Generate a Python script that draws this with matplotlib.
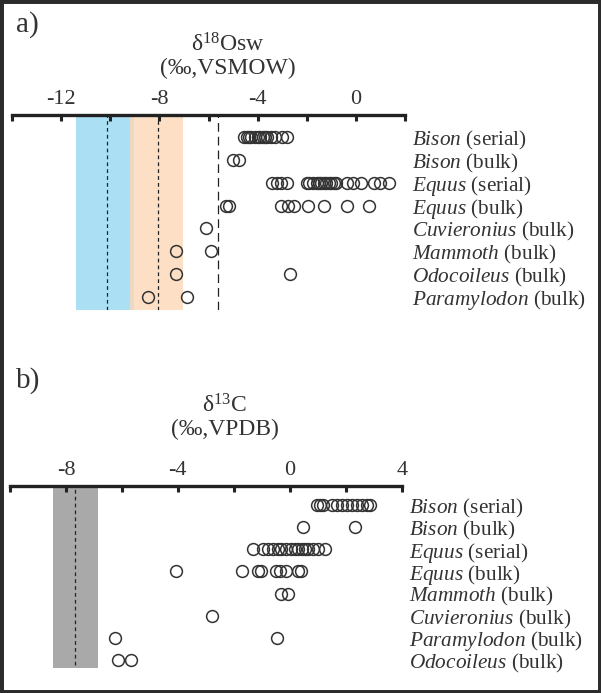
import matplotlib
matplotlib.use("Agg")
import matplotlib.pyplot as plt
from matplotlib.patches import Rectangle

plt.rcParams["font.family"] = ["Liberation Serif", "DejaVu Serif"]
plt.rcParams["mathtext.fontset"] = "custom"
plt.rcParams["mathtext.rm"] = "Liberation Serif"
plt.rcParams["mathtext.it"] = "Liberation Serif:italic"

# panel a: d18O of source water
o_genus = ["Bison", "Bison", "Equus", "Equus", "Cuvieronius", "Mammoth", "Odocoileus", "Paramylodon"]
o_kind = ["serial", "bulk", "serial", "bulk", "bulk", "bulk", "bulk", "bulk"]
o_values = [
    [-4.55, -4.45, -4.35, -4.25, -4.1, -4.0, -3.9, -3.8, -3.7, -3.6, -3.45, -3.3, -3.0, -2.8],
    [-5.0, -4.75],
    [-3.4, -3.2, -3.05, -2.8, -2.0, -1.9, -1.75, -1.6, -1.5, -1.4, -1.3, -1.2, -1.1, -1.0,
     -0.9, -0.8, -0.35, -0.1, 0.2, 0.75, 1.0, 1.35],
    [-5.28, -5.15, -3.05, -2.78, -2.5, -1.94, -1.31, -0.38, 0.54],
    [-6.1],
    [-7.34, -5.9],
    [-7.34, -2.67],
    [-8.47, -6.87],
]
blue_band = (-11.4, -9.05)
blue_mean = -10.15
orange_band = (-9.2, -7.03)
orange_mean = -8.07
o_line = -5.62

# panel b: d13C
c_genus = ["Bison", "Bison", "Equus", "Equus", "Mammoth", "Cuvieronius", "Paramylodon", "Odocoileus"]
c_kind = ["serial", "bulk", "serial", "bulk", "bulk", "bulk", "bulk", "bulk"]
c_values = [
    [0.96, 1.08, 1.2, 1.5, 1.68, 1.86, 2.04, 2.22, 2.4, 2.57, 2.75, 2.87],
    [0.46, 2.33],
    [-1.32, -0.96, -0.78, -0.6, -0.42, -0.3, -0.12, 0.06, 0.18, 0.3, 0.42, 0.54, 0.66,
     0.84, 1.02, 1.26],
    [-4.07, -1.7, -1.14, -1.02, -0.48, -0.36, -0.12, 0.28, 0.4],
    [-0.32, -0.06],
    [-2.79],
    [-6.25, -0.44],
    [-6.13, -5.66],
]
gray_band = (-8.47, -6.84)
gray_mean = -7.68

W, H = 601, 693
fig = plt.figure(figsize=(W / 100, H / 100), dpi=100)


def setup_axis(ax, xlim, ylim, genus, kind, ticks):
    ax.set_xlim(*xlim)
    ax.set_ylim(*ylim)
    for s in ["left", "right", "bottom"]:
        ax.spines[s].set_visible(False)
    ax.spines["top"].set_linewidth(2.4)
    ax.spines["top"].set_color("#222222")
    ax.xaxis.tick_top()
    ax.set_xticks(ticks)
    ax.set_xticklabels([f"{t:g}" for t in ticks], fontsize=16, color="#333333")
    ax.set_xticks(range(int(xlim[0]), int(xlim[1]) + 1, 2), minor=True)
    ax.tick_params(axis="x", which="both", direction="in", length=4, width=2.2,
                   color="#222222", pad=4)
    ax.yaxis.tick_right()
    ax.set_yticks(range(len(genus)))
    ax.set_yticklabels([f"$\\mathit{{{g}}}$ ({k})" for g, k in zip(genus, kind)],
                       fontsize=15.3, color="#333333")
    ax.tick_params(axis="y", length=0, pad=5)
    ax.patch.set_alpha(0)


def dots(ax, values):
    for i, vals in enumerate(values):
        ax.plot(vals, [i] * len(vals), "o", ms=8.5, mfc="none", mec="#333333", mew=1.1,
                zorder=3)


# panel a
ax1 = fig.add_axes([12 / W, 1 - 310 / H, 393 / W, 195 / H])
ax1.axvspan(*blue_band, color="#abe0f4", lw=0, zorder=1)
ax1.axvspan(*orange_band, color="#fdd8b8", alpha=0.8, lw=0, zorder=1)
ax1.axvline(blue_mean, color="#222222", ls=(0, (3, 2.5)), lw=0.9, zorder=2)
ax1.axvline(orange_mean, color="#222222", ls=(0, (3, 2.5)), lw=0.9, zorder=2)
ax1.axvline(o_line, color="#222222", ls=(0, (7, 4)), lw=0.9, zorder=2)
dots(ax1, o_values)
setup_axis(ax1, (-14, 2), (7.57, -0.96), o_genus, o_kind, [-12, -8, -4, 0])
ax1.text(0.548, 1.185, "δ$^{18}$Osw\n(‰,VSMOW)", transform=ax1.transAxes, ha="center",
         va="bottom", fontsize=17, color="#333333", linespacing=1.1)
fig.text(16 / W, 1 - 25 / H, "a)", fontsize=21, color="#333333", va="center")

# panel b
ax2 = fig.add_axes([10 / W, 1 - 668 / H, 391.7 / W, 182 / H])
ax2.axvspan(*gray_band, color="#a9a9aa", lw=0, zorder=1)
ax2.axvline(gray_mean, ymin=0.015, color="#222222", ls=(0, (3, 2.5)), lw=0.9, zorder=2)
dots(ax2, c_values)
setup_axis(ax2, (-10, 4), (7.36, -0.86), c_genus, c_kind, [-8, -4, 0, 4])
ax2.text(0.548, 1.25, "δ$^{13}$C\n(‰,VPDB)", transform=ax2.transAxes, ha="center",
         va="bottom", fontsize=17, color="#333333", linespacing=1.1)
fig.text(16 / W, 1 - 381 / H, "b)", fontsize=21, color="#333333", va="center")

# dark frame round the figure
fig.patches.append(Rectangle((0, 0), 1, 1, transform=fig.transFigure, fill=False,
                             edgecolor="#2b2b2b", linewidth=5, zorder=10))

fig.savefig("out.png", dpi=100)
